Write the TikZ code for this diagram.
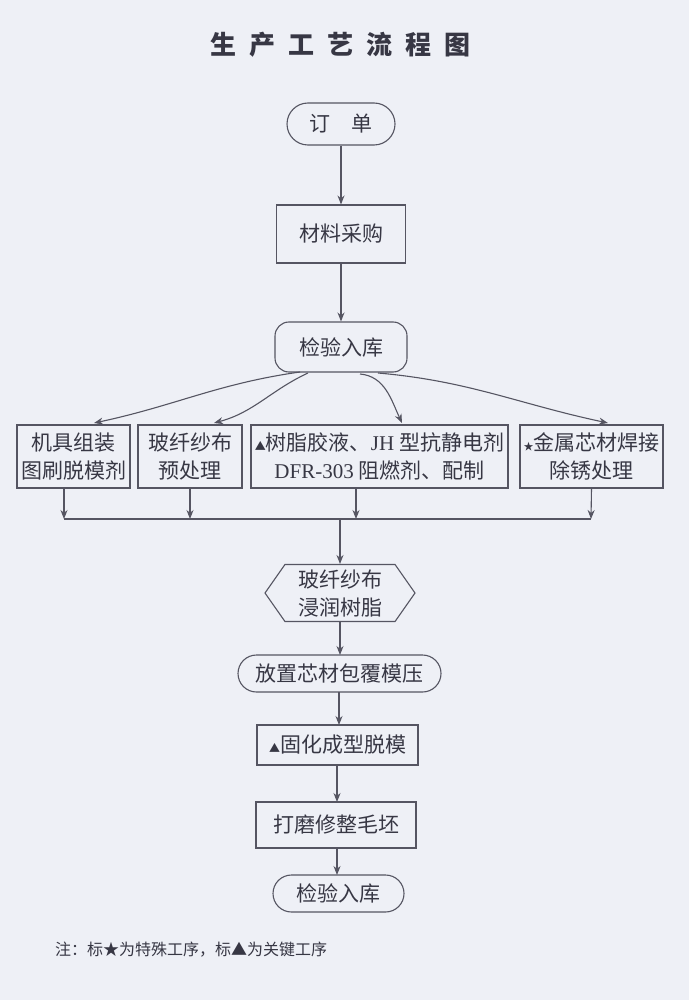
\documentclass[tikz,border=0pt]{standalone}
\usepackage{fontspec}
\setmainfont{Noto Sans CJK SC}
\newfontfamily\latf{Liberation Serif}
\usetikzlibrary{arrows.meta,shapes.symbols,shapes.misc}
\definecolor{bgc}{RGB}{238,240,246}
\definecolor{lnc}{RGB}{85,85,98}
\definecolor{txc}{RGB}{55,55,68}
\newcommand{\tri}{{\fontsize{11}{11}\selectfont ▲}}
\newcommand{\smstar}{{\fontsize{10}{10}\selectfont ★}}
\begin{document}
\begin{tikzpicture}[x=1pt,y=-1pt,
  every node/.style={text=txc,font=\fontsize{21}{28}\selectfont,align=center,inner sep=0pt},
  boxr/.style={draw=lnc,line width=1.1pt,rectangle},
  stad/.style={draw=lnc,line width=1.1pt,rounded rectangle},
  rbox/.style={draw=lnc,line width=1.1pt,rectangle,rounded corners=14pt},
  hexa/.style={draw=lnc,line width=1.1pt,signal,signal to=east and west,signal pointer angle=110},
  arr/.style={draw=lnc,line width=1.1pt,-{Stealth[length=9pt,width=7pt]}},
  ln/.style={draw=lnc,line width=1.1pt}]
\fill[bgc] (0,0) rectangle (689,1000);
\useasboundingbox (0,0) rectangle (689,1000);

\node[font=\fontsize{26}{26}\selectfont\bfseries] (title) at (340,45)
  {生\hspace{13pt}产\hspace{13pt}工\hspace{13pt}艺\hspace{13pt}流\hspace{13pt}程\hspace{13pt}图};

\node[stad,minimum width=108pt,minimum height=42pt] (dd) at (341,124) {订\hspace{1em}单};
\node[boxr,minimum width=129pt,minimum height=58pt] (cl) at (341,234) {材料采购};
\node[rbox,minimum width=132pt,minimum height=50pt] (jy) at (341,347) {检验入库};

\node[boxr,minimum width=113pt,minimum height=63pt] (b1) at (73.5,456.5) {机具组装\\图刷脱模剂};
\node[boxr,minimum width=104pt,minimum height=63pt] (b2) at (190,456.5) {玻纤纱布\\预处理};
\node[boxr,minimum width=257pt,minimum height=63pt] (b3) at (379.5,456.5) {\tri 树脂胶液、{\latf JH} 型抗静电剂\\{\latf DFR-303} 阻燃剂、配制};
\node[boxr,minimum width=143pt,minimum height=63pt] (b4) at (591.5,456.5) {\smstar 金属芯材焊接\\除锈处理};

\node[hexa,minimum width=150pt,minimum height=57pt] (hx) at (340,593) {玻纤纱布\\浸润树脂};
\node[stad,minimum width=203pt,minimum height=37pt] (fz) at (339.5,673.5) {放置芯材包覆模压};
\node[boxr,minimum width=161pt,minimum height=40pt] (gh) at (337.5,745) {\tri 固化成型脱模};
\node[boxr,minimum width=160pt,minimum height=46pt] (dm) at (336,825) {打磨修整毛坯};
\node[stad,minimum width=131pt,minimum height=37pt] (jy2) at (338.5,893.5) {检验入库};

\node[anchor=west,font=\fontsize{16}{16}\selectfont] (note) at (55,950) {注：标★为特殊工序，标▲为关键工序};

% main vertical arrows
\draw[arr] (dd.south) -- (cl.north);
\draw[arr] (cl.south) -- (jy.north);

% curved branches
\coordinate (s1) at (300,372);
\coordinate (s2) at (308,373);
\coordinate (s3) at (360,374);
\coordinate (s4) at (378,373);
\coordinate (e1) at (94,423);
\coordinate (e2) at (214,423);
\coordinate (e3) at (402,423);
\coordinate (e4) at (608,423);
\draw[arr] (s1) to[out=188,in=12] (e1);
\draw[arr] (s2) to[out=205,in=15] (e2);
\draw[arr] (s3) to[out=-5,in=115] (e3);
\draw[arr] (s4) to[out=-5,in=168] (e4);

% merge
\coordinate (t1) at (64,488);
\coordinate (t3) at (356,488);
\coordinate (m1) at (64,519);
\coordinate (m2) at (190,519);
\coordinate (m3) at (356,519);
\coordinate (m4) at (591,519);
\coordinate (mc) at (340,519);
\draw[arr] (t1) -- (m1);
\draw[arr] (b2.south) -- (m2);
\draw[arr] (t3) -- (m3);
\draw[arr] (b4.south) -- (m4);
\draw[ln] (m1) -- (m4);
\draw[arr] (mc) -- (hx.north);

\coordinate (a1) at (340,622);
\coordinate (a2) at (340,655);
\coordinate (a3) at (339,692);
\coordinate (a4) at (339,725);
\coordinate (a5) at (337,765);
\coordinate (a6) at (337,802);
\coordinate (a7) at (337,848);
\coordinate (a8) at (337,875);
\draw[arr] (a1) -- (a2);
\draw[arr] (a3) -- (a4);
\draw[arr] (a5) -- (a6);
\draw[arr] (a7) -- (a8);
\end{tikzpicture}
\end{document}
